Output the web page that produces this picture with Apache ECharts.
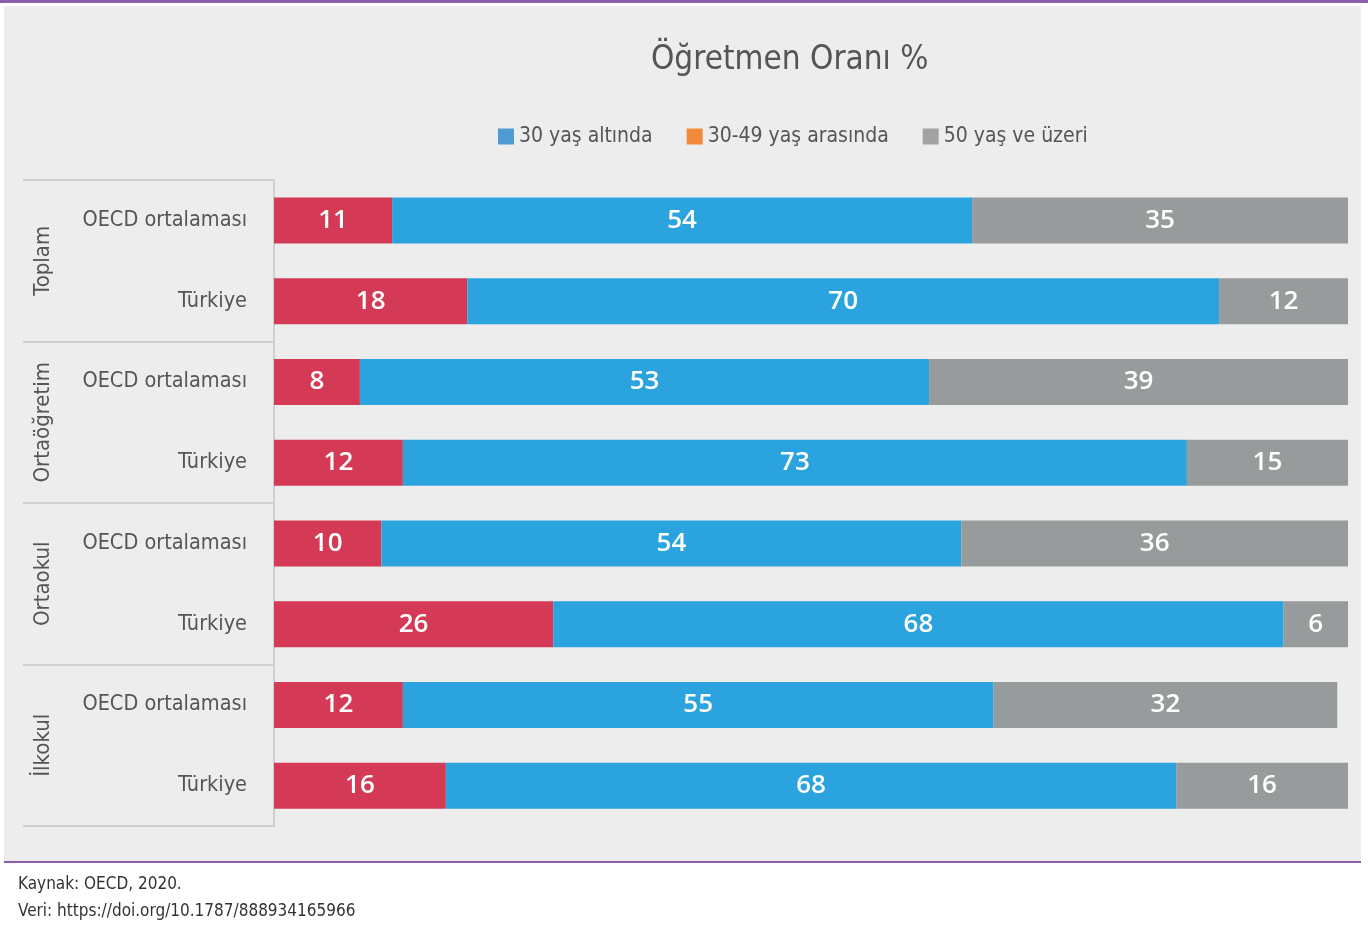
<!doctype html>
<html>
<head>
<meta charset="utf-8">
<title>Öğretmen Oranı</title>
<script src="https://cdn.jsdelivr.net/npm/echarts@6/dist/echarts.min.js"></script>
<style>
  html, body { margin: 0; padding: 0; background: #fff; }
</style>
</head>
<body>
<div id="chart" style="width: 1368px; height: 930px;"></div>
<script type="text/javascript">
// data
var groups = ['Toplam', 'Ortaöğretim', 'Ortaokul', 'İlkokul'];
var rows = ['OECD ortalaması', 'Türkiye', 'OECD ortalaması', 'Türkiye',
            'OECD ortalaması', 'Türkiye', 'OECD ortalaması', 'Türkiye'];
var seriesNames = ['30 yaş altında', '30-49 yaş arasında', '50 yaş ve üzeri'];
var under30 = [11, 18, 8, 12, 10, 26, 12, 16];
var mid3049 = [54, 70, 53, 73, 54, 68, 55, 68];
var over50 = [35, 12, 39, 15, 36, 6, 32, 16];

var barColors = ['#d43a55', '#2ba3de', '#989b9c'];
var legendColors = ['#4f9bd6', '#f28a3b', '#a0a2a3'];
var font = '"DejaVu Sans Condensed", "Liberation Sans Narrow", sans-serif';

var myChart = echarts.init(document.getElementById('chart'));

function makeSeries(name, values, color) {
    return {
        name: name,
        type: 'bar',
        stack: 'total',
        barWidth: 46,
        itemStyle: { color: color },
        label: {
            show: true,
            position: 'inside',
            color: '#fff',
            fontFamily: '"Open Sans", sans-serif',
            fontSize: 26,
            fontWeight: 600
        },
        data: values
    };
}

var option = {
    animation: false,
    graphic: [
        { type: 'rect', z: -10, shape: { x: 0, y: 0, width: 1368, height: 3 }, style: { fill: '#8a5ea8' } },
        { type: 'rect', z: -10, shape: { x: 4, y: 6, width: 1357, height: 855 }, style: { fill: '#ededed' } },
        { type: 'rect', z: -10, shape: { x: 4, y: 861, width: 1357, height: 2 }, style: { fill: '#8a5ea8' } },
        { type: 'text', left: 18, top: 876, style: { text: 'Kaynak: OECD, 2020.', fill: '#333', font: '17px ' + font } },
        { type: 'text', left: 18, top: 903, style: { text: 'Veri: https://doi.org/10.1787/888934165966', fill: '#333', font: '17px ' + font } }
    ],
    title: {
        text: 'Öğretmen Oranı %',
        left: 646,
        top: 39,
        textStyle: { fontFamily: font, fontSize: 33, fontWeight: 'normal', color: '#555' }
    },
    legend: {
        left: 493,
        top: 121,
        itemWidth: 16,
        itemHeight: 16,
        itemGap: 34,
        icon: 'rect',
        textStyle: { fontFamily: font, fontSize: 21, color: '#555' },
        data: seriesNames.map(function (n, i) {
            return { name: n, itemStyle: { color: legendColors[i] } };
        })
    },
    grid: { left: 274, right: 20, top: 180, bottom: 104 },
    xAxis: { type: 'value', min: 0, max: 100, show: false },
    yAxis: [
        {
            type: 'category',
            inverse: true,
            data: rows,
            axisLine: { show: false },
            axisTick: { show: false },
            axisLabel: { margin: 27, interval: 0, fontFamily: font, fontSize: 21.5, color: '#555' }
        },
        {
            type: 'category',
            position: 'left',
            offset: 0,
            inverse: true,
            data: groups,
            axisLine: { show: true, lineStyle: { color: '#cfcfcf', width: 2 } },
            axisTick: { show: true, interval: 0, length: 251, lineStyle: { color: '#cfcfcf', width: 2 } },
            axisLabel: { rotate: 90, interval: 0, margin: 220, fontFamily: font, fontSize: 22, color: '#555' }
        }
    ],
    series: [
        makeSeries(seriesNames[0], under30, barColors[0]),
        makeSeries(seriesNames[1], mid3049, barColors[1]),
        makeSeries(seriesNames[2], over50, barColors[2])
    ]
};

myChart.setOption(option);
</script>
</body>
</html>
